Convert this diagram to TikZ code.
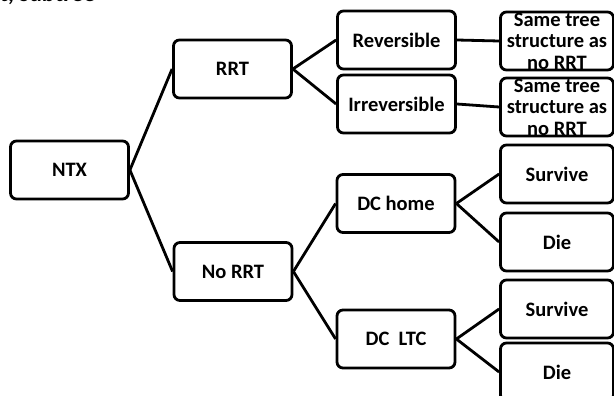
\documentclass[tikz,border=0pt]{standalone}
\usepackage{fontspec}
\setmainfont{Carlito}
\usetikzlibrary{positioning}

\begin{document}
\begin{tikzpicture}[x=1pt, y=-1pt,
    box/.style={draw, line width=2.8pt, rounded corners=6pt, fill=white,
      minimum width=118pt, minimum height=58pt, align=center,
      font=\fontsize{20.5}{21.5}\selectfont\bfseries},
    leaf/.style={box, minimum width=113pt, inner ysep=-5pt},
    branch/.style={line width=2.8pt}]
  \useasboundingbox (0,0) rectangle (614,396);
  \clip (0,0) rectangle (614,396);
  \node[anchor=base west, font=\fontsize{24}{26}\selectfont\bfseries] (title) at (-4,2) {t, subtree};
  \node[box] (ntx) at (69.5,170) {NTX};
  \node[box] (rrt) at (232.5,69) {RRT};
  \node[box] (norrt) at (233,271.5) {No RRT};
  \node[box] (rev) at (396.5,40) {Reversible};
  \node[box] (irr) at (396.5,104) {Irreversible};
  \node[box] (home) at (396,203.5) {DC home};
  \node[box] (ltc) at (396,339) {DC\ \ LTC};
  \node[leaf] (same1) at (557,41) {Same tree\\structure as\\no RRT};
  \node[leaf] (same2) at (557,107) {Same tree\\structure as\\no RRT};
  \node[leaf] (surv1) at (557,174) {Survive};
  \node[leaf] (die1) at (557,242) {Die};
  \node[leaf] (surv2) at (557,309) {Survive};
  \node[leaf] (die2) at (557,372) {Die};
  \path[branch]
    (ntx.east) edge (rrt.west)
    (ntx.east) edge (norrt.west)
    (rrt.east) edge (rev.west)
    (rrt.east) edge (irr.west)
    (rev.east) edge (same1.west)
    (irr.east) edge (same2.west)
    (norrt.east) edge (home.west)
    (norrt.east) edge (ltc.west)
    (home.east) edge (surv1.west)
    (home.east) edge (die1.west)
    (ltc.east) edge (surv2.west)
    (ltc.east) edge (die2.west);
\end{tikzpicture}
\end{document}
